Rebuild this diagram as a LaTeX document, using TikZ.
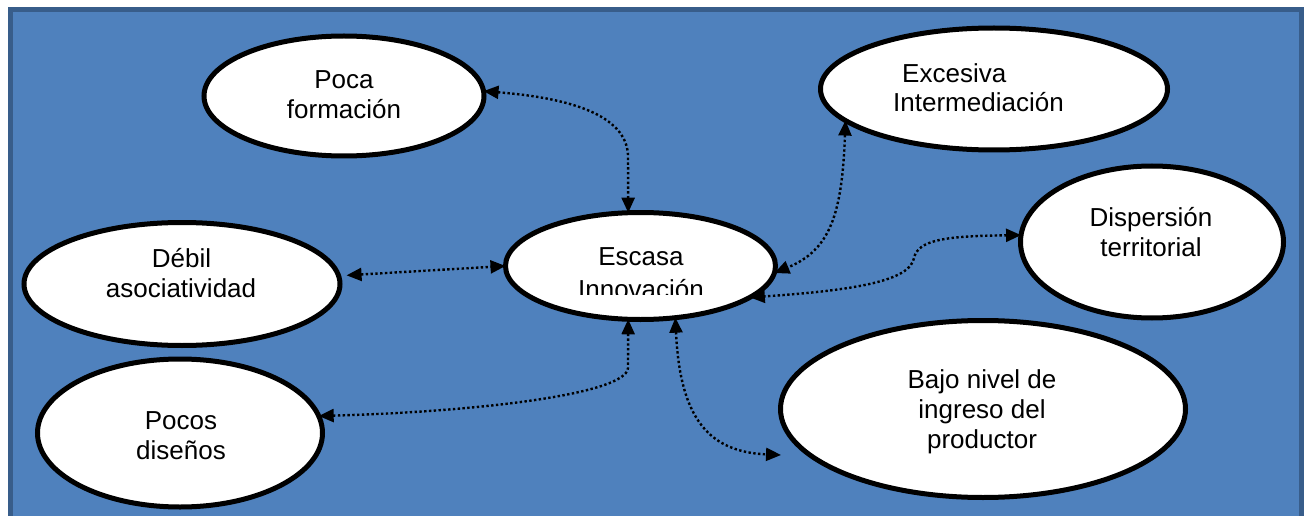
\documentclass[tikz,border=0pt]{standalone}
\usepackage{fontspec}
\setmainfont{Liberation Sans}
\usetikzlibrary{arrows.meta,shapes.geometric}
\definecolor{bgblue}{HTML}{4F81BD}
\definecolor{bgborder}{HTML}{385D8A}
\begin{document}
\begin{tikzpicture}[x=1pt,y=-1pt,
  bubble/.style={draw=black,fill=white,ellipse,line width=5pt,inner sep=0pt,outer sep=0pt},
  txt/.style={font=\fontsize{26}{30}\selectfont,inner sep=0pt,anchor=base},
  txtw/.style={txt,anchor=base west},
  conn/.style={line width=2.4pt,dash pattern=on 2.4pt off 2.4pt,
    {Triangle[length=15pt,width=13pt]}-{Triangle[length=15pt,width=13pt]}}]
\useasboundingbox (0,0) rectangle (1307,516);
\fill[white] (0,0) rectangle (1307,516);
\draw[bgborder,fill=bgblue,line width=5pt] (10.5,10) rectangle (1301.5,540);

% bubbles
\node[bubble,minimum width=280pt,minimum height=120pt] (pf) at (344,96) {};
\node[bubble,minimum width=347pt,minimum height=122pt] (ex) at (994,89) {};
\node[bubble,minimum width=263pt,minimum height=152pt] (ds) at (1152,242) {};
\node[bubble,minimum width=316pt,minimum height=123pt] (db) at (182,284) {};
\node[bubble,minimum width=270pt,minimum height=107pt] (esc) at (640.5,266) {};
\node[bubble,minimum width=285pt,minimum height=148pt] (pd) at (180,433) {};
\node[bubble,minimum width=405pt,minimum height=177pt] (bj) at (983,409) {};

% texts
\node[txt] (pf1) at (344,89) {Poca};
\node[txt] (pf2) at (344,119) {formación};
\node[txtw] (ex1) at (902,83) {Excesiva};
\node[txtw] (ex2) at (893,112) {Intermediación};
\node[txt] (ds1) at (1151,226) {Dispersión};
\node[txt] (ds2) at (1151,256) {territorial};
\node[txt] (db1) at (181.5,267) {Débil};
\node[txt] (db2) at (181,297) {asociatividad};
\node[txt] (es1) at (641,265) {Escasa};
\begin{scope}
  \clip (505,270) rectangle (780,294);
  \node[txt] (es2) at (641,298) {Innovación};
\end{scope}
\node[txt] (pd1) at (181,429) {Pocos};
\node[txt] (pd2) at (181,459) {diseños};
\node[txt] (bj1) at (982,388) {Bajo nivel de};
\node[txt] (bj2) at (982,418) {ingreso del};
\node[txt] (bj3) at (982,448) {productor};

% connectors
\coordinate (bjtip) at (781,455);
\draw[conn] (pf.2) .. controls (570,98) and (626,115) .. (628,155) -- (esc.103);
\draw[conn] (ex.192) .. controls (842,215) and (830,250) .. (esc.-3);
\draw[conn] (ds.177) .. controls (945,236) and (918,240) .. (914,258)
            .. controls (910,280) and (860,290) .. (esc.-16);
\draw[conn,shorten <=8pt] (db.3) -- (esc.west);
\draw[conn] (esc.-103) -- (628,368) .. controls (626,395) and (470,412) .. (pd.7);
\draw[conn] (esc.-56) .. controls (680,420) and (710,452) .. (bjtip);
\end{tikzpicture}
\end{document}
